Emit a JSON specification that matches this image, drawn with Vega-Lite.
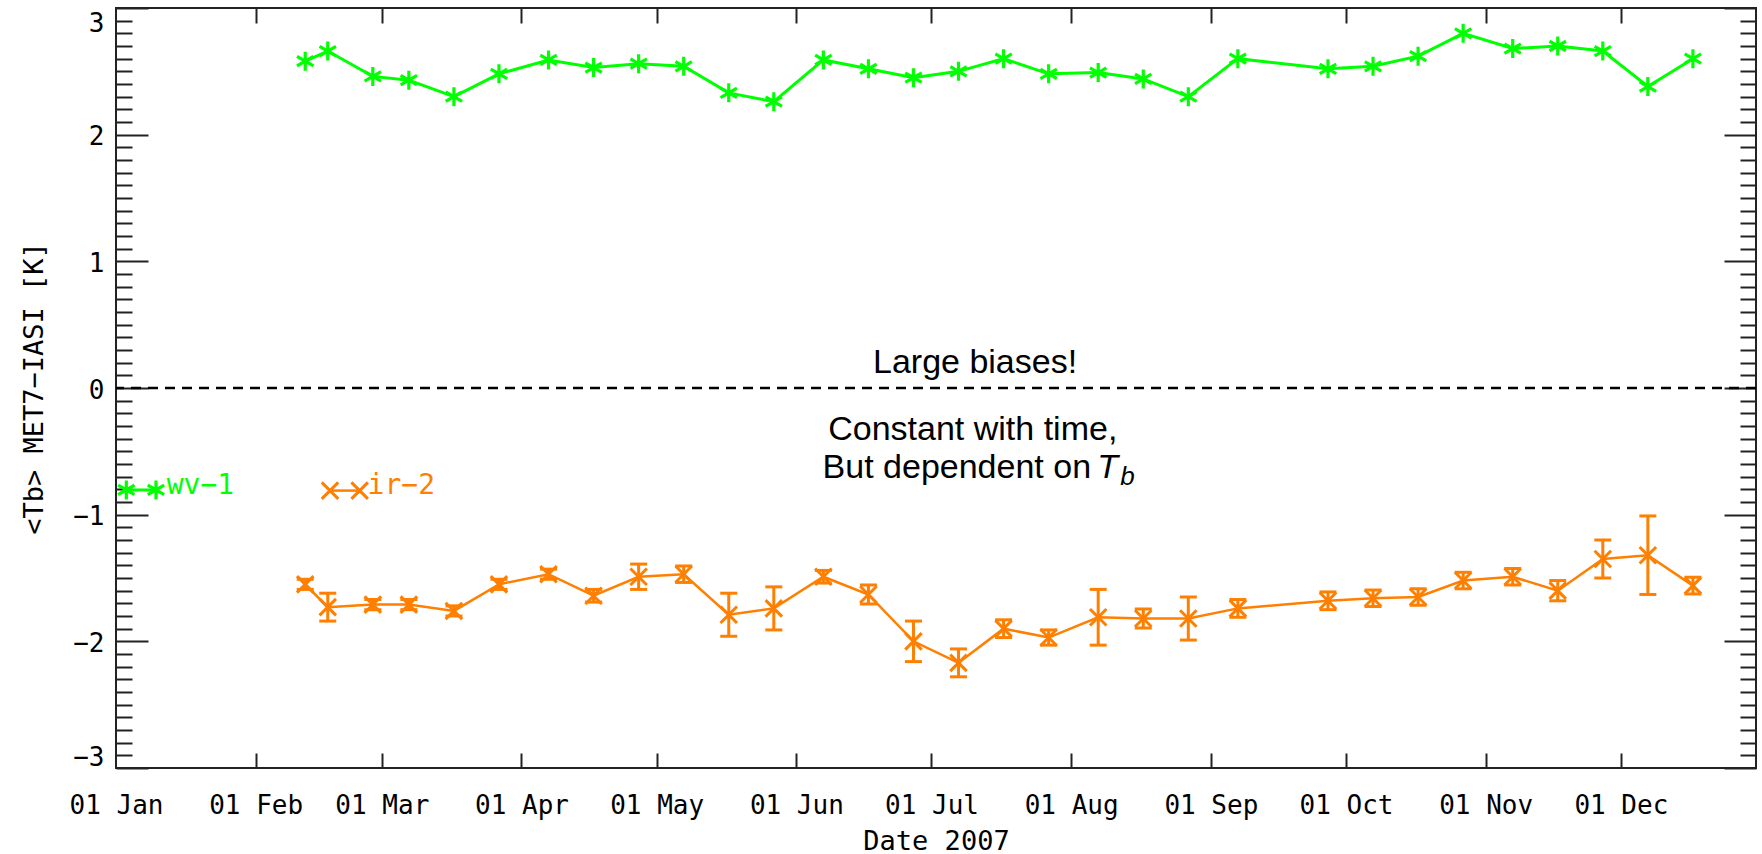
{
  "$schema": "https://vega.github.io/schema/vega-lite/v6.json",
  "autosize": {"type": "none"},
  "padding": {"left": 116, "top": 8, "right": 6, "bottom": 86},
  "width": 1640,
  "height": 760,
  "background": "white",
  "config": {
    "view": {"stroke": "#222", "strokeWidth": 2},
    "axis": {
      "grid": false, "domain": false, "tickColor": "#222", "tickWidth": 2,
      "labelColor": "black", "titleColor": "black",
      "labelFont": "DejaVu Sans Mono", "titleFont": "DejaVu Sans Mono", "titleFontWeight": "normal",
      "labelFlush": false, "labelOverlap": false, "labelBound": false
    }
  },
  "datasets": {
    "green": [
      {"date": "2007-02-12", "value": 2.58},
      {"date": "2007-02-17", "value": 2.66},
      {"date": "2007-02-27", "value": 2.46},
      {"date": "2007-03-07", "value": 2.43},
      {"date": "2007-03-17", "value": 2.30},
      {"date": "2007-03-27", "value": 2.48},
      {"date": "2007-04-07", "value": 2.59},
      {"date": "2007-04-17", "value": 2.53},
      {"date": "2007-04-27", "value": 2.56},
      {"date": "2007-05-07", "value": 2.54},
      {"date": "2007-05-17", "value": 2.33},
      {"date": "2007-05-27", "value": 2.26},
      {"date": "2007-06-07", "value": 2.59},
      {"date": "2007-06-17", "value": 2.52},
      {"date": "2007-06-27", "value": 2.45},
      {"date": "2007-07-07", "value": 2.50},
      {"date": "2007-07-17", "value": 2.60},
      {"date": "2007-07-27", "value": 2.48},
      {"date": "2007-08-07", "value": 2.49},
      {"date": "2007-08-17", "value": 2.44},
      {"date": "2007-08-27", "value": 2.30},
      {"date": "2007-09-07", "value": 2.60},
      {"date": "2007-09-27", "value": 2.52},
      {"date": "2007-10-07", "value": 2.54},
      {"date": "2007-10-17", "value": 2.62},
      {"date": "2007-10-27", "value": 2.80},
      {"date": "2007-11-07", "value": 2.68},
      {"date": "2007-11-17", "value": 2.70},
      {"date": "2007-11-27", "value": 2.66},
      {"date": "2007-12-07", "value": 2.38},
      {"date": "2007-12-17", "value": 2.60}
    ],
    "orange": [
      {"date": "2007-02-12", "value": -1.55, "lo": -1.59, "hi": -1.51},
      {"date": "2007-02-17", "value": -1.73, "lo": -1.84, "hi": -1.62},
      {"date": "2007-02-27", "value": -1.71, "lo": -1.75, "hi": -1.67},
      {"date": "2007-03-07", "value": -1.71, "lo": -1.75, "hi": -1.67},
      {"date": "2007-03-17", "value": -1.76, "lo": -1.80, "hi": -1.72},
      {"date": "2007-03-27", "value": -1.55, "lo": -1.59, "hi": -1.51},
      {"date": "2007-04-07", "value": -1.47, "lo": -1.51, "hi": -1.43},
      {"date": "2007-04-17", "value": -1.64, "lo": -1.69, "hi": -1.59},
      {"date": "2007-04-27", "value": -1.49, "lo": -1.59, "hi": -1.39},
      {"date": "2007-05-07", "value": -1.47, "lo": -1.535, "hi": -1.405},
      {"date": "2007-05-17", "value": -1.79, "lo": -1.96, "hi": -1.62},
      {"date": "2007-05-27", "value": -1.74, "lo": -1.91, "hi": -1.57},
      {"date": "2007-06-07", "value": -1.49, "lo": -1.54, "hi": -1.44},
      {"date": "2007-06-17", "value": -1.63, "lo": -1.705, "hi": -1.555},
      {"date": "2007-06-27", "value": -2.00, "lo": -2.16, "hi": -1.84},
      {"date": "2007-07-07", "value": -2.17, "lo": -2.28, "hi": -2.06},
      {"date": "2007-07-17", "value": -1.90, "lo": -1.97, "hi": -1.83},
      {"date": "2007-07-27", "value": -1.97, "lo": -2.03, "hi": -1.91},
      {"date": "2007-08-07", "value": -1.81, "lo": -2.03, "hi": -1.59},
      {"date": "2007-08-17", "value": -1.82, "lo": -1.895, "hi": -1.745},
      {"date": "2007-08-27", "value": -1.82, "lo": -1.99, "hi": -1.65},
      {"date": "2007-09-07", "value": -1.74, "lo": -1.81, "hi": -1.67},
      {"date": "2007-09-27", "value": -1.68, "lo": -1.75, "hi": -1.61},
      {"date": "2007-10-07", "value": -1.66, "lo": -1.725, "hi": -1.595},
      {"date": "2007-10-17", "value": -1.65, "lo": -1.715, "hi": -1.585},
      {"date": "2007-10-27", "value": -1.52, "lo": -1.585, "hi": -1.455},
      {"date": "2007-11-07", "value": -1.49, "lo": -1.555, "hi": -1.425},
      {"date": "2007-11-17", "value": -1.60, "lo": -1.68, "hi": -1.52},
      {"date": "2007-11-27", "value": -1.35, "lo": -1.50, "hi": -1.20},
      {"date": "2007-12-07", "value": -1.32, "lo": -1.63, "hi": -1.01},
      {"date": "2007-12-17", "value": -1.56, "lo": -1.626, "hi": -1.494}
    ],
    "legend": [
      {"series": "wv", "date": "2007-01-03T07:00:00Z", "value": -0.805},
      {"series": "wv", "date": "2007-01-09T21:00:00Z", "value": -0.805},
      {"series": "ir", "date": "2007-02-17T12:00:00Z", "value": -0.81},
      {"series": "ir", "date": "2007-02-24T02:00:00Z", "value": -0.81}
    ],
    "legendText": [
      {"series": "wv", "date": "2007-01-12T06:00:00Z", "value": -0.835, "text": "wv−1"},
      {"series": "ir", "date": "2007-02-25T20:00:00Z", "value": -0.84, "text": "ir−2"}
    ],
    "notes": [
      {"k": "c", "date": "2007-07-10T16:00:00Z", "value": 0.119, "text": "Large biases!"},
      {"k": "c", "date": "2007-07-10T04:00:00Z", "value": -0.41, "text": "Constant with time,"},
      {"k": "r", "date": "2007-08-05T10:00:00Z", "value": -0.713, "text": "But dependent on"},
      {"k": "T", "date": "2007-08-06T19:00:00Z", "value": -0.713, "text": "T"},
      {"k": "b", "date": "2007-08-11T22:00:00Z", "value": -0.766, "text": "b"}
    ]
  },
  "resolve": {"axis": {"x": "independent", "y": "independent"}},
  "layer": [
    {
      "data": {"values": [{"v": 0}]},
      "mark": {"type": "rule", "strokeDash": [10, 7], "strokeWidth": 2.5, "color": "black"},
      "encoding": {
        "y": {"field": "v", "type": "quantitative", "scale": {"domain": [-3, 3], "nice": false, "zero": false},
          "axis": {"orient": "left", "values": [-3, -2, -1, 0, 1, 2, 3], "ticks": false, "tickSize": 0, "labelPadding": 12, "labelFontSize": 26, "format": "d",
            "labelFlush": true, "labelFlushOffset": 0, "labelOffset": 2,
            "title": "<Tb> MET7−IASI [K]", "titleFontSize": 27, "titlePadding": 24}}
      }
    },
    {
      "data": {"name": "green"},
      "mark": {"type": "line", "color": "#00FF00", "strokeWidth": 3},
      "encoding": {
        "x": {"field": "date", "type": "temporal",
          "scale": {"type": "utc", "domain": [{"year": 2007, "month": 1, "date": 1, "utc": true}, {"year": 2007, "month": 12, "date": 31, "utc": true}]},
          "axis": {"orient": "bottom", "format": "%d %b", "ticks": false, "tickSize": 0, "labelPadding": 24, "labelFontSize": 26,
            "values": [{"year": 2007, "month": 1, "date": 1, "utc": true}, {"year": 2007, "month": 2, "date": 1, "utc": true}, {"year": 2007, "month": 3, "date": 1, "utc": true}, {"year": 2007, "month": 4, "date": 1, "utc": true}, {"year": 2007, "month": 5, "date": 1, "utc": true}, {"year": 2007, "month": 6, "date": 1, "utc": true}, {"year": 2007, "month": 7, "date": 1, "utc": true}, {"year": 2007, "month": 8, "date": 1, "utc": true}, {"year": 2007, "month": 9, "date": 1, "utc": true}, {"year": 2007, "month": 10, "date": 1, "utc": true}, {"year": 2007, "month": 11, "date": 1, "utc": true}, {"year": 2007, "month": 12, "date": 1, "utc": true}],
            "title": "Date 2007", "titleFontSize": 27, "titlePadding": 10}},
        "y": {"field": "value", "type": "quantitative", "scale": {"domain": [-3, 3], "nice": false, "zero": false},
          "axis": {"orient": "left", "values": [-3, -2, -1, 0, 1, 2, 3], "labels": false, "tickSize": -32, "title": null}}
      }
    },
    {
      "data": {"name": "green"},
      "mark": {"type": "point", "shape": "M0,-1L0,1M-0.866,-0.5L0.866,0.5M-0.866,0.5L0.866,-0.5", "size": 361, "filled": false, "stroke": "#00FF00", "strokeWidth": 3.2, "opacity": 1},
      "encoding": {
        "x": {"field": "date", "type": "temporal",
          "axis": {"orient": "bottom", "labels": false, "tickSize": -15, "title": null,
            "values": [{"year": 2007, "month": 2, "date": 1, "utc": true}, {"year": 2007, "month": 3, "date": 1, "utc": true}, {"year": 2007, "month": 4, "date": 1, "utc": true}, {"year": 2007, "month": 5, "date": 1, "utc": true}, {"year": 2007, "month": 6, "date": 1, "utc": true}, {"year": 2007, "month": 7, "date": 1, "utc": true}, {"year": 2007, "month": 8, "date": 1, "utc": true}, {"year": 2007, "month": 9, "date": 1, "utc": true}, {"year": 2007, "month": 10, "date": 1, "utc": true}, {"year": 2007, "month": 11, "date": 1, "utc": true}, {"year": 2007, "month": 12, "date": 1, "utc": true}]}},
        "y": {"field": "value", "type": "quantitative",
          "axis": {"orient": "left", "labels": false, "tickSize": -16, "title": null,
            "values": [-2.9, -2.8, -2.7, -2.6, -2.5, -2.4, -2.3, -2.2, -2.1, -1.9, -1.8, -1.7, -1.6, -1.5, -1.4, -1.3, -1.2, -1.1, -0.9, -0.8, -0.7, -0.6, -0.5, -0.4, -0.3, -0.2, -0.1, 0.1, 0.2, 0.3, 0.4, 0.5, 0.6, 0.7, 0.8, 0.9, 1.1, 1.2, 1.3, 1.4, 1.5, 1.6, 1.7, 1.8, 1.9, 2.1, 2.2, 2.3, 2.4, 2.5, 2.6, 2.7, 2.8, 2.9]}}
      }
    },
    {
      "data": {"name": "orange"},
      "mark": {"type": "rule", "color": "#FF7F00", "strokeWidth": 3},
      "encoding": {
        "x": {"field": "date", "type": "temporal",
          "axis": {"orient": "top", "labels": false, "tickSize": -15, "title": null,
            "values": [{"year": 2007, "month": 2, "date": 1, "utc": true}, {"year": 2007, "month": 3, "date": 1, "utc": true}, {"year": 2007, "month": 4, "date": 1, "utc": true}, {"year": 2007, "month": 5, "date": 1, "utc": true}, {"year": 2007, "month": 6, "date": 1, "utc": true}, {"year": 2007, "month": 7, "date": 1, "utc": true}, {"year": 2007, "month": 8, "date": 1, "utc": true}, {"year": 2007, "month": 9, "date": 1, "utc": true}, {"year": 2007, "month": 10, "date": 1, "utc": true}, {"year": 2007, "month": 11, "date": 1, "utc": true}, {"year": 2007, "month": 12, "date": 1, "utc": true}]}},
        "y": {"field": "lo", "type": "quantitative",
          "axis": {"orient": "right", "values": [-3, -2, -1, 0, 1, 2, 3], "labels": false, "tickSize": -32, "title": null}},
        "y2": {"field": "hi"}
      }
    },
    {
      "data": {"name": "orange"},
      "mark": {"type": "tick", "orient": "horizontal", "size": 17, "thickness": 3, "color": "#FF7F00", "opacity": 1},
      "encoding": {
        "x": {"field": "date", "type": "temporal", "axis": null},
        "y": {"field": "lo", "type": "quantitative",
          "axis": {"orient": "right", "labels": false, "tickSize": -16, "title": null,
            "values": [-2.9, -2.8, -2.7, -2.6, -2.5, -2.4, -2.3, -2.2, -2.1, -1.9, -1.8, -1.7, -1.6, -1.5, -1.4, -1.3, -1.2, -1.1, -0.9, -0.8, -0.7, -0.6, -0.5, -0.4, -0.3, -0.2, -0.1, 0.1, 0.2, 0.3, 0.4, 0.5, 0.6, 0.7, 0.8, 0.9, 1.1, 1.2, 1.3, 1.4, 1.5, 1.6, 1.7, 1.8, 1.9, 2.1, 2.2, 2.3, 2.4, 2.5, 2.6, 2.7, 2.8, 2.9]}}
      }
    },
    {
      "data": {"name": "orange"},
      "mark": {"type": "tick", "orient": "horizontal", "size": 17, "thickness": 3, "color": "#FF7F00", "opacity": 1},
      "encoding": {
        "x": {"field": "date", "type": "temporal", "axis": null},
        "y": {"field": "hi", "type": "quantitative", "axis": null}
      }
    },
    {
      "data": {"name": "orange"},
      "mark": {"type": "line", "color": "#FF7F00", "strokeWidth": 2.5},
      "encoding": {
        "x": {"field": "date", "type": "temporal", "axis": null},
        "y": {"field": "value", "type": "quantitative", "axis": null}
      }
    },
    {
      "data": {"name": "orange"},
      "mark": {"type": "point", "shape": "M-1,-1L1,1M-1,1L1,-1", "size": 272, "filled": false, "stroke": "#FF7F00", "strokeWidth": 3, "opacity": 1},
      "encoding": {
        "x": {"field": "date", "type": "temporal", "axis": null},
        "y": {"field": "value", "type": "quantitative", "axis": null}
      }
    },
    {
      "data": {"name": "legend"},
      "transform": [{"filter": {"field": "series", "equal": "wv"}}],
      "mark": {"type": "line", "color": "#00FF00", "strokeWidth": 3},
      "encoding": {
        "x": {"field": "date", "type": "temporal", "axis": null},
        "y": {"field": "value", "type": "quantitative", "axis": null}
      }
    },
    {
      "data": {"name": "legend"},
      "transform": [{"filter": {"field": "series", "equal": "wv"}}],
      "mark": {"type": "point", "shape": "M0,-1L0,1M-0.866,-0.5L0.866,0.5M-0.866,0.5L0.866,-0.5", "size": 361, "filled": false, "stroke": "#00FF00", "strokeWidth": 3.2, "opacity": 1},
      "encoding": {
        "x": {"field": "date", "type": "temporal", "axis": null},
        "y": {"field": "value", "type": "quantitative", "axis": null}
      }
    },
    {
      "data": {"name": "legend"},
      "transform": [{"filter": {"field": "series", "equal": "ir"}}],
      "mark": {"type": "line", "color": "#FF7F00", "strokeWidth": 2.5},
      "encoding": {
        "x": {"field": "date", "type": "temporal", "axis": null},
        "y": {"field": "value", "type": "quantitative", "axis": null}
      }
    },
    {
      "data": {"name": "legend"},
      "transform": [{"filter": {"field": "series", "equal": "ir"}}],
      "mark": {"type": "point", "shape": "M-1,-1L1,1M-1,1L1,-1", "size": 272, "filled": false, "stroke": "#FF7F00", "strokeWidth": 3, "opacity": 1},
      "encoding": {
        "x": {"field": "date", "type": "temporal", "axis": null},
        "y": {"field": "value", "type": "quantitative", "axis": null}
      }
    },
    {
      "data": {"name": "legendText"},
      "transform": [{"filter": {"field": "series", "equal": "wv"}}],
      "mark": {"type": "text", "align": "left", "baseline": "alphabetic", "font": "DejaVu Sans Mono", "fontSize": 28, "color": "#00FF00"},
      "encoding": {
        "x": {"field": "date", "type": "temporal", "axis": null},
        "y": {"field": "value", "type": "quantitative", "axis": null},
        "text": {"field": "text"}
      }
    },
    {
      "data": {"name": "legendText"},
      "transform": [{"filter": {"field": "series", "equal": "ir"}}],
      "mark": {"type": "text", "align": "left", "baseline": "alphabetic", "font": "DejaVu Sans Mono", "fontSize": 28, "color": "#FF7F00"},
      "encoding": {
        "x": {"field": "date", "type": "temporal", "axis": null},
        "y": {"field": "value", "type": "quantitative", "axis": null},
        "text": {"field": "text"}
      }
    },
    {
      "data": {"name": "notes"},
      "transform": [{"filter": {"field": "k", "equal": "c"}}],
      "mark": {"type": "text", "align": "center", "baseline": "alphabetic", "font": "Liberation Sans", "fontSize": 34, "color": "black"},
      "encoding": {
        "x": {"field": "date", "type": "temporal", "axis": null},
        "y": {"field": "value", "type": "quantitative", "axis": null},
        "text": {"field": "text"}
      }
    },
    {
      "data": {"name": "notes"},
      "transform": [{"filter": {"field": "k", "equal": "r"}}],
      "mark": {"type": "text", "align": "right", "baseline": "alphabetic", "font": "Liberation Sans", "fontSize": 34, "color": "black"},
      "encoding": {
        "x": {"field": "date", "type": "temporal", "axis": null},
        "y": {"field": "value", "type": "quantitative", "axis": null},
        "text": {"field": "text"}
      }
    },
    {
      "data": {"name": "notes"},
      "transform": [{"filter": {"field": "k", "equal": "T"}}],
      "mark": {"type": "text", "align": "left", "baseline": "alphabetic", "font": "Liberation Sans", "fontStyle": "italic", "fontSize": 34, "color": "black"},
      "encoding": {
        "x": {"field": "date", "type": "temporal", "axis": null},
        "y": {"field": "value", "type": "quantitative", "axis": null},
        "text": {"field": "text"}
      }
    },
    {
      "data": {"name": "notes"},
      "transform": [{"filter": {"field": "k", "equal": "b"}}],
      "mark": {"type": "text", "align": "left", "baseline": "alphabetic", "font": "Liberation Sans", "fontStyle": "italic", "fontSize": 26, "color": "black"},
      "encoding": {
        "x": {"field": "date", "type": "temporal", "axis": null},
        "y": {"field": "value", "type": "quantitative", "axis": null},
        "text": {"field": "text"}
      }
    }
  ]
}
